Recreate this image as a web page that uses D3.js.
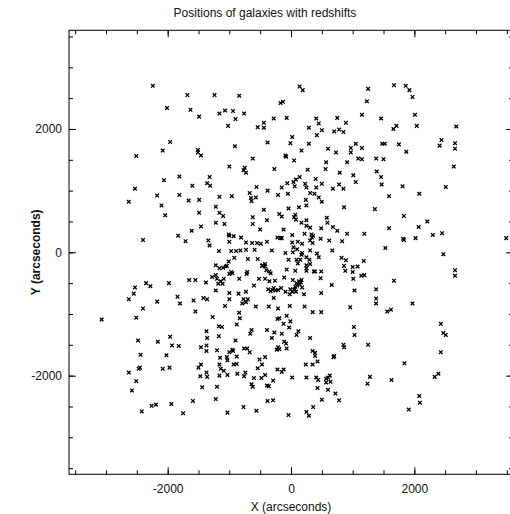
<!DOCTYPE html>
<html>
<head>
<meta charset="utf-8">
<script src="https://cdn.jsdelivr.net/npm/d3@7"></script>
<style>
  body { margin: 0; background: #fff; }
  svg { display: block; }
  text { font-family: "Liberation Sans", Arial, sans-serif; fill: #111; }
</style>
</head>
<body>
<svg id="chart"></svg>
<script>
// galaxy positions, [x, y] in arcseconds
const galaxies = [
  [-2240,2700],[-1680,2550],[-1240,2550],[-2010,2340],[-1630,2310],[-1490,2200],[-1160,2250],[-1070,2300],
  [-1020,2050],[-1960,1790],[-2080,1650],[-1510,1660],[-1510,1620],[-1460,1570],[-2510,1560],[-1000,1390],
  [-1810,1230],[-2060,1170],[-1320,1220],[-1360,1120],[-1310,1080],[-1600,1080],[-2530,1030],[-2170,920],
  [-1810,930],[-1660,840],[-1490,850],[-1160,900],[-2630,820],[-2100,760],[-1220,740],
  [140,2690],[190,2630],[-840,2540],[-170,2420],[-130,2440],[-940,2290],[-760,2250],[-900,2160],
  [-280,2170],[-70,2180],[-440,2100],[-440,2020],[-540,2030],[410,2170],[750,2180],[1150,2230],
  [450,2090],[890,2100],[290,2020],[500,1980],[700,1960],[780,1990],[850,1950],[420,1900],
  [20,1870],[-380,1780],[-10,1770],[290,1760],[-910,1720],[170,1650],[600,1680],[730,1620],
  [1050,1760],[970,1690],[1150,1690],[970,1620],[-90,1570],[-80,1550],[-620,1520],[50,1490],
  [570,1460],[910,1460],[1090,1520],[1150,1510],[-750,1370],[-770,1330],[-730,1290],[-270,1350],
  [270,1340],[560,1350],[790,1290],[1010,1250],[1050,1140],[140,1220],[80,1180],[40,1140],
  [-60,1120],[400,1190],[230,1110],[500,1110],[-560,1060],[-150,1050],[60,1070],[250,1050],
  [410,1050],[780,1100],[680,1030],[850,1030],[-380,1000],[-670,960],[-210,930],[-50,950],
  [310,960],[380,950],[450,890],[500,820],[-650,880],[-570,890],[-640,830],[-960,910],
  [240,850],[250,760],[130,730],[-40,710],[-440,690],[860,730],
  [1250,2650],[1670,2710],[1860,2700],[1920,2630],[1970,2520],[1230,2450],[1460,2170],[2010,2230],
  [1660,2000],[1710,2050],[2040,2050],[2680,2040],[2440,1820],[2410,1730],[2660,1770],[2660,1680],
  [1480,1760],[1520,1760],[1750,1750],[1870,1630],[1380,1520],[1500,1510],[2640,1390],[1390,1310],
  [1460,1220],[1470,1100],[1810,1070],[2510,1060],[2080,950],[1590,910],[1360,700],
  [-2040,600],[-1490,640],[-1160,640],[-1100,590],[-1220,480],[-1080,460],[-1460,420],[-1610,350],
  [-1010,290],[-1000,270],[-1000,170],[-1830,270],[-1710,180],[-2400,200],[-1340,190],[-1320,110],
  [-1170,20],[-1220,-210],[-1160,-260],[-1100,-250],[-1060,-230],[-1040,-220],[-1010,-150],[-1000,-350],
  [-1280,-400],[-1220,-370],[-1200,-430],[-1090,-430],[-1140,-470],[-1110,-510],[-1180,-510],[-1220,-620],
  [-1000,-660],[-1650,-450],[-1550,-450],[-1380,-490],[-1980,-500],[-2350,-500],[-2280,-550],[-2530,-570],
  [-2550,-670],[-2630,-760],[-1840,-720],[-2170,-800],[-1800,-830],[-1580,-780],[-1420,-740],[-1360,-760],
  [-1000,-760],[-1070,-870],[-2400,-910],[-1550,-960],[-2510,-1060],[-3070,-1090],[-1270,-1050],[-1170,-1200],
  [-1120,-1210],[-1370,-1280],[-1960,-1370],[-1360,-1390],[-1170,-1360],
  [-620,570],[-190,620],[-150,580],[70,610],[50,570],[80,530],[170,480],[250,520],
  [-620,460],[-390,520],[-500,370],[580,560],[590,480],[250,430],[310,400],[490,390],
  [680,410],[750,350],[-120,370],[220,300],[20,280],[330,290],[360,270],[340,240],
  [310,190],[910,300],[1190,300],[-930,260],[-810,240],[-220,240],[-170,230],[-150,230],
  [20,160],[110,170],[180,140],[350,150],[480,220],[620,190],[830,180],[-730,160],
  [-630,150],[-550,150],[-490,140],[-390,170],[-970,20],[-890,20],[-820,30],[-730,40],
  [-590,40],[-310,30],[-90,-10],[30,0],[40,80],[100,50],[180,-10],[170,-40],
  [310,30],[420,-20],[450,-80],[670,30],[-920,-90],[-700,-110],[-540,-110],[-40,-120],
  [90,-120],[110,-180],[150,-120],[250,-80],[300,-120],[310,-190],[820,-90],[890,-130],
  [1180,-140],[-460,-210],[-420,-190],[-420,-230],[-470,-220],[-70,-280],[70,-300],[250,-210],
  [250,-260],[250,-300],[370,-310],[390,-310],[490,-310],[860,-220],[880,-300],[1000,-240],
  [1080,-230],[1000,-320],[-970,-320],[-950,-340],[-710,-320],[-720,-350],[-400,-290],[-350,-310],
  [-330,-340],[-840,-430],[-520,-430],[-420,-430],[-260,-460],[-350,-470],[-110,-410],[30,-450],
  [90,-500],[130,-470],[170,-450],[160,-490],[140,-520],[100,-540],[180,-570],[480,-420],
  [660,-530],[1010,-430],[1140,-380],[1190,-370],[-600,-540],[-280,-580],[-300,-610],[-250,-620],
  [-330,-630],[-370,-600],[-210,-610],[-160,-580],[-90,-640],[-10,-600],[20,-640],[60,-600],
  [70,-560],[50,-610],[80,-640],[-20,-680],[210,-680],[490,-660],[1030,-620],[-850,-670],
  [-730,-640],[-770,-760],[-700,-760],[-730,-810],[-790,-830],[-280,-740],[-570,-880],[-360,-880],
  [-210,-910],[-20,-870],[220,-880],[960,-890],[-840,-980],[350,-970],[490,-970],[-830,-1070],
  [-190,-1070],[-220,-1080],[-70,-1030],[-10,-1120],[-880,-1170],[-120,-1160],[1020,-1210],[-640,-1260],
  [-660,-1320],[-390,-1260],[-270,-1300],[-150,-1320],[-30,-1220],[120,-1280],[90,-1340],[310,-1390],
  [-310,-1390],[1030,-1340],
  [1830,590],[1590,390],[2070,410],[2210,500],[1820,220],[1830,200],[2020,230],[2300,280],
  [2450,310],[3490,230],[1530,70],[2470,-30],[2660,-290],[2660,-380],[1670,-460],[1380,-600],
  [1380,-750],[1380,-830],[1970,-830],[1560,-960],[1620,-930],[2430,-1160],[2470,-1310],[2510,-1340],
  [-2480,-1430],[-2160,-1450],[-1930,-1510],[-1820,-1520],[-1460,-1540],[-1370,-1510],[-1370,-1600],[-1200,-1590],
  [-1000,-1620],[-2440,-1660],[-2020,-1670],[-1150,-1710],[-1040,-1700],[-1030,-1750],[-2450,-1870],[-2470,-1890],
  [-2630,-1950],[-2080,-1890],[-1970,-1870],[-1460,-1820],[-1500,-1870],[-1160,-1820],[-1140,-1890],[-1090,-1920],
  [-1370,-1950],[-1360,-2020],[-1470,-2010],[-1160,-2000],[-1030,-1990],[-2510,-2090],[-2580,-2240],[-1440,-2190],
  [-1200,-2180],[-1220,-2380],[-1590,-2410],[-1940,-2460],[-2260,-2490],[-2190,-2470],[-2420,-2580],[-1750,-2610],
  [-1030,-2600],
  [-900,-1430],[-110,-1450],[-80,-1480],[-210,-1540],[-230,-1580],[-190,-1570],[-70,-1560],[-950,-1580],
  [-940,-1600],[-760,-1560],[-710,-1560],[-670,-1620],[-880,-1690],[-420,-1700],[-510,-1740],[350,-1600],
  [390,-1630],[390,-1680],[430,-1770],[240,-1820],[350,-1820],[850,-1500],[860,-1540],[700,-1680],
  [690,-1700],[-880,-1810],[-930,-1820],[-470,-1820],[-540,-1880],[-870,-1970],[-740,-1950],[-760,-2010],
  [-220,-1900],[-120,-1900],[-150,-1940],[-420,-1990],[-600,-2040],[-480,-2040],[-290,-2080],[20,-2030],
  [250,-2030],[410,-2030],[440,-2070],[630,-2000],[600,-2030],[570,-2050],[640,-2100],[570,-2110],
  [-640,-2140],[-620,-2180],[-390,-2160],[-360,-2170],[430,-2200],[600,-2230],[720,-2290],[500,-2390],
  [780,-2400],[-380,-2410],[-290,-2400],[-770,-2510],[-560,-2570],[360,-2510],[-40,-2640],[250,-2590],
  [290,-2650],
  [1250,-1500],[2430,-1620],[1840,-1800],[1280,-2020],[1240,-2130],[1630,-2070],[2330,-2020],[2390,-1970],
  [2080,-2330],[2090,-2440],[1910,-2550]
];

const axisDomain = [-3600, 3600];
const minorTicks = d3.range(-3500, 3501, 500);
const majorTicks = [-2000, 0, 2000];

const titleText = "Positions of galaxies with redshifts";
const xLabel = "X (arcseconds)";
const yLabel = "Y (arcseconds)";

const width = 510, height = 514;
const margin = { left: 69, top: 30.3 };
const size = 444;

const svg = d3.select("#chart").attr("width", width).attr("height", height);

const x = d3.scaleLinear().domain(axisDomain).range([margin.left, margin.left + size]);
const y = d3.scaleLinear().domain(axisDomain).range([margin.top + size, margin.top]);

const fontSize = "12px";

function styleAxis(g) {
    g.select(".domain").remove();
    g.selectAll(".tick line").attr("stroke", "#000").attr("stroke-width", 1);
    g.selectAll("text").attr("font-size", fontSize).attr("fill", "#111")
        .attr("font-family", "'Liberation Sans', Arial, sans-serif");
}

// minor ticks on all four sides
const sides = [
    [d3.axisBottom, `translate(0,${y.range()[0]})`, x],
    [d3.axisTop, `translate(0,${y.range()[1]})`, x],
    [d3.axisLeft, `translate(${x.range()[0]},0)`, y],
    [d3.axisRight, `translate(${x.range()[1]},0)`, y]
];
sides.forEach(([axisFn, tr, sc], i) => {
    svg.append("g")
        .attr("transform", tr)
        .call(axisFn(sc).tickValues(minorTicks).tickSize(-4).tickFormat(""))
        .call(styleAxis);
    const major = axisFn(sc).tickValues(majorTicks).tickSize(-7).tickSizeOuter(0);
    if (i === 0) major.tickPadding(10).tickFormat(d3.format("d"));
    else if (i === 2) major.tickPadding(7).tickFormat(d3.format("d"));
    else major.tickFormat("");
    svg.append("g")
        .attr("transform", tr)
        .call(major)
        .call(styleAxis);
});

// fix minus sign to a plain hyphen like the original
svg.selectAll(".tick text").text(function() { return d3.select(this).text().replace("\u2212", "-"); });

// frame
svg.append("rect")
    .attr("x", x.range()[0]).attr("y", y.range()[1])
    .attr("width", size).attr("height", size)
    .attr("fill", "none").attr("stroke", "#000").attr("stroke-width", 1);

// points as small crosses
const r = 1.8;
svg.append("g")
    .selectAll("path")
    .data(galaxies)
    .join("path")
    .attr("transform", d => `translate(${x(d[0])},${y(d[1])})`)
    .attr("d", `M${-r},${-r}L${r},${r}M${-r},${r}L${r},${-r}`)
    .attr("stroke", "#000")
    .attr("stroke-width", 1.3)
    .attr("fill", "none");

svg.append("text")
    .attr("x", 265).attr("y", 17)
    .attr("text-anchor", "middle")
    .attr("font-size", fontSize)
    .text(titleText);

svg.append("text")
    .attr("x", 291).attr("y", 511)
    .attr("text-anchor", "middle")
    .attr("font-size", fontSize)
    .text(xLabel);

svg.append("text")
    .attr("transform", `translate(40,${y(0)}) rotate(-90)`)
    .attr("text-anchor", "middle")
    .attr("font-size", fontSize)
    .attr("font-weight", "bold")
    .text(yLabel);
</script>
</body>
</html>
